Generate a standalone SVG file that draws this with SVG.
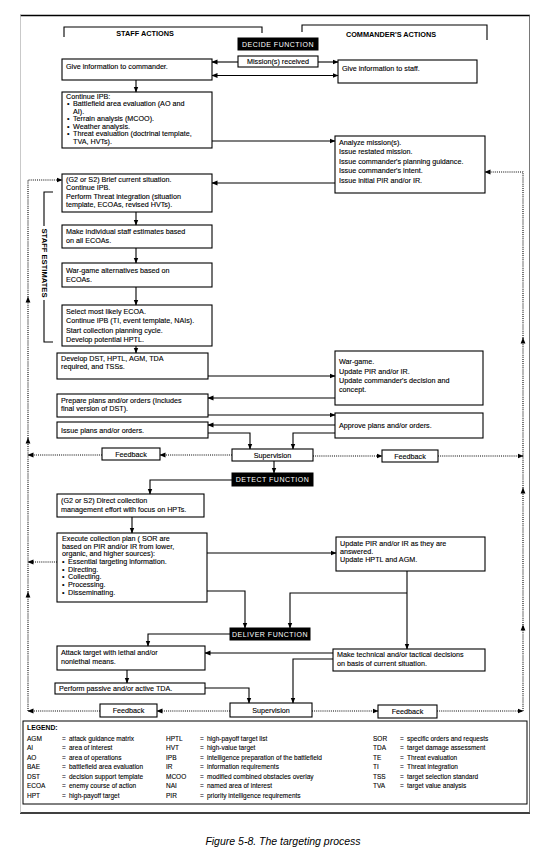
<svg xmlns="http://www.w3.org/2000/svg" width="550" height="860" viewBox="0 0 550 860">
<defs>
<marker id="ah" markerWidth="6" markerHeight="6" refX="5.5" refY="3" orient="auto" markerUnits="userSpaceOnUse"><path d="M0,0.6 L6,3 L0,5.4 z" fill="#000"/></marker>
<style>
.t{font-family:"Liberation Sans",Arial,sans-serif;font-size:7.2px;fill:#000;stroke:#000;stroke-width:0.12}
.h{font-family:"Liberation Sans",Arial,sans-serif;font-size:7.3px;font-weight:bold;fill:#000}
.w{font-family:"Liberation Sans",Arial,sans-serif;font-size:7px;fill:#fff;letter-spacing:0.5px}
.c{text-anchor:middle}
.lg{font-family:"Liberation Sans",Arial,sans-serif;font-size:6.5px;fill:#000;stroke:#000;stroke-width:0.1}
.box{fill:#fff;stroke:#000;stroke-width:1.1}
.fn{fill:#000;stroke:#000}
.ln{fill:none;stroke:#000;stroke-width:1.1}
.dt{fill:none;stroke:#000;stroke-width:1.1;stroke-dasharray:1 1.1}
</style>
</defs>
<rect width="550" height="860" fill="#fff"/>
<g id="frame">
<line x1="20" y1="15.5" x2="530" y2="15.5" stroke="#000" stroke-width="1.5"/>
<line x1="20" y1="813" x2="530" y2="813" stroke="#000" stroke-width="1.5"/>
<line x1="20.5" y1="15" x2="20.5" y2="813" stroke="#bbb" stroke-width="0.8"/>
<line x1="529.5" y1="15" x2="529.5" y2="813" stroke="#555" stroke-width="0.8"/>
</g>
<g id="staff-actions">
<path class="ln" d="M64,37 V27 H262 V33"/>
<text class="h c" x="145" y="36">STAFF ACTIONS</text>
</g>
<g id="commander-actions">
<path class="ln" d="M302,32 V25 H487 V40"/>
<text class="h c" x="391" y="37">COMMANDER'S ACTIONS</text>
</g>
<g id="decide-function">
<rect class="fn" x="238" y="38" width="80" height="12"/>
<text class="w c" x="278" y="46.5">DECIDE FUNCTION</text>
</g>
<g id="staff-estimates">
<path class="ln" d="M53,192 H44 V226 M44,300 V342 H53"/>
<text class="h c" transform="translate(41.5,263) rotate(90)" style="font-size:7.6px">STAFF ESTIMATES</text>
</g>
<g id="give-info-commander">
<rect class="box" x="62" y="59" width="150" height="21"/>
<text class="t" x="66" y="68.5">Give information to commander.</text>
</g>
<g id="mission-received">
<rect class="box" x="238" y="56" width="80" height="11"/>
<text class="t c" x="278" y="64">Mission(s) received</text>
</g>
<g id="give-info-staff">
<rect class="box" x="338" y="60" width="139" height="23"/>
<text class="t" x="342" y="71">Give information to staff.</text>
</g>
<g id="continue-ipb">
<rect class="box" x="62" y="92" width="150" height="56"/>
<text class="t" x="66" y="98.5">Continue IPB:</text>
<text class="t" x="67" y="106">•</text><text class="t" x="73" y="106">Battlefield area evaluation (AO and</text>
<text class="t" x="73" y="113.5">AI).</text>
<text class="t" x="67" y="121">•</text><text class="t" x="73" y="121">Terrain analysis (MCOO).</text>
<text class="t" x="67" y="128.5">•</text><text class="t" x="73" y="128.5">Weather analysis.</text>
<text class="t" x="67" y="136">•</text><text class="t" x="73" y="136">Threat evaluation (doctrinal template,</text>
<text class="t" x="73" y="143.5">TVA, HVTs).</text>
</g>
<g id="analyze-mission">
<rect class="box" x="335" y="136" width="150" height="57"/>
<text class="t" x="339" y="144.5">Analyze mission(s).</text>
<text class="t" x="339" y="154">Issue restated mission.</text>
<text class="t" x="339" y="163.5">Issue commander's planning guidance.</text>
<text class="t" x="339" y="173">Issue commander's intent.</text>
<text class="t" x="339" y="182.5">Issue initial PIR and/or IR.</text>
</g>
<g id="brief-situation">
<rect class="box" x="62" y="174" width="150" height="38"/>
<text class="t" x="66" y="181.5">(G2 or S2) Brief current situation.</text>
<text class="t" x="66" y="189.5">Continue IPB.</text>
<text class="t" x="66" y="199">Perform Threat integration (situation</text>
<text class="t" x="66" y="207">template, ECOAs, revised HVTs).</text>
</g>
<g id="staff-estimates-box">
<rect class="box" x="62" y="225" width="150" height="23"/>
<text class="t" x="66" y="234">Make individual staff estimates based</text>
<text class="t" x="66" y="243">on all ECOAs.</text>
</g>
<g id="wargame-alternatives">
<rect class="box" x="62" y="263" width="150" height="24"/>
<text class="t" x="66" y="272.5">War-game alternatives based on</text>
<text class="t" x="66" y="281.5">ECOAs.</text>
</g>
<g id="select-ecoa">
<rect class="box" x="62" y="305" width="150" height="41"/>
<text class="t" x="66" y="313.5">Select most likely ECOA.</text>
<text class="t" x="66" y="323">Continue IPB (TI, event template, NAIs).</text>
<text class="t" x="66" y="332.5">Start collection planning cycle.</text>
<text class="t" x="66" y="342">Develop potential HPTL.</text>
</g>
<g id="develop-dst">
<rect class="box" x="57" y="353" width="151" height="26"/>
<text class="t" x="61" y="361">Develop DST, HPTL, AGM, TDA</text>
<text class="t" x="61" y="369">required, and TSSs.</text>
</g>
<g id="wargame">
<rect class="box" x="335" y="351" width="148" height="54"/>
<text class="t" x="339" y="364">War-game.</text>
<text class="t" x="339" y="373.5">Update PIR and/or IR.</text>
<text class="t" x="339" y="383">Update commander's decision and</text>
<text class="t" x="339" y="391.5">concept.</text>
</g>
<g id="prepare-plans">
<rect class="box" x="57" y="394" width="151" height="23"/>
<text class="t" x="61" y="402.5">Prepare plans and/or orders (Includes</text>
<text class="t" x="61" y="411">final version of DST).</text>
</g>
<g id="approve-plans">
<rect class="box" x="335" y="413" width="148" height="25"/>
<text class="t" x="339" y="428">Approve plans and/or orders.</text>
</g>
<g id="issue-plans">
<rect class="box" x="57" y="422" width="151" height="16"/>
<text class="t" x="61" y="432.5">Issue plans and/or orders.</text>
</g>
<g id="supervision-1">
<rect class="box" x="232" y="449" width="81" height="12"/>
<text class="t c" x="272.5" y="457.5">Supervision</text>
</g>
<g id="feedback-1l">
<rect class="box" x="102" y="448" width="58" height="12"/>
<text class="t c" x="131" y="456.5">Feedback</text>
</g>
<g id="feedback-1r">
<rect class="box" x="382" y="450" width="56" height="12"/>
<text class="t c" x="410" y="458.5">Feedback</text>
</g>
<g id="detect-function">
<rect class="fn" x="232" y="473" width="81" height="13"/>
<text class="w c" x="272.5" y="482">DETECT FUNCTION</text>
</g>
<g id="direct-collection">
<rect class="box" x="57" y="494" width="147" height="23"/>
<text class="t" x="61" y="503">(G2 or S2) Direct collection</text>
<text class="t" x="61" y="511.5">management effort with focus on HPTs.</text>
</g>
<g id="execute-collection">
<rect class="box" x="57" y="533" width="150" height="69"/>
<text class="t" x="62" y="540.5">Execute collection plan ( SOR  are</text>
<text class="t" x="62" y="548.5">based on PIR and/or IR from lower,</text>
<text class="t" x="62" y="556">organic, and higher sources):</text>
<text class="t" x="62" y="564">•</text><text class="t" x="68" y="564">Essential targeting information.</text>
<text class="t" x="62" y="571.5">•</text><text class="t" x="68" y="571.5">Directing.</text>
<text class="t" x="62" y="579">•</text><text class="t" x="68" y="579">Collecting.</text>
<text class="t" x="62" y="587">•</text><text class="t" x="68" y="587">Processing.</text>
<text class="t" x="62" y="595">•</text><text class="t" x="68" y="595">Disseminating.</text>
</g>
<g id="update-pir">
<rect class="box" x="336" y="537" width="149" height="34"/>
<text class="t" x="340" y="545.5">Update PIR and/or IR as they are</text>
<text class="t" x="340" y="553.5">answered.</text>
<text class="t" x="340" y="562">Update HPTL and AGM.</text>
</g>
<g id="deliver-function">
<rect class="fn" x="230" y="628" width="80" height="12"/>
<text class="w c" x="270" y="636.5">DELIVER FUNCTION</text>
</g>
<g id="attack-target">
<rect class="box" x="57" y="646" width="148" height="24"/>
<text class="t" x="61" y="655">Attack target with lethal and/or</text>
<text class="t" x="61" y="664">nonlethal means.</text>
</g>
<g id="tactical-decisions">
<rect class="box" x="333" y="649" width="152" height="22"/>
<text class="t" x="337" y="657">Make technical and/or tactical decisions</text>
<text class="t" x="337" y="665.5">on basis of current situation.</text>
</g>
<g id="perform-tda">
<rect class="box" x="55" y="683" width="150" height="11"/>
<text class="t" x="59" y="691">Perform passive and/or active TDA.</text>
</g>
<g id="supervision-2">
<rect class="box" x="230" y="703" width="82" height="14"/>
<text class="t c" x="271" y="712.5">Supervision</text>
</g>
<g id="feedback-2l">
<rect class="box" x="100" y="704" width="57" height="13"/>
<text class="t c" x="128.5" y="713">Feedback</text>
</g>
<g id="feedback-2r">
<rect class="box" x="378" y="705" width="59" height="13"/>
<text class="t c" x="407.5" y="714">Feedback</text>
</g>
<g id="connectors">
<path class="ln" d="M238,62 H212" marker-end="url(#ah)"/>
<path class="ln" d="M318,62 H338" marker-end="url(#ah)"/>
<path class="ln" d="M275,75.5 H212" marker-end="url(#ah)"/>
<path class="ln" d="M275,75.5 H338" marker-end="url(#ah)"/>
<path class="ln" d="M136,80 V92" marker-end="url(#ah)"/>
<path class="ln" d="M212,141 H335" marker-end="url(#ah)"/>
<path class="ln" d="M335,183 H212" marker-end="url(#ah)"/>
<path class="ln" d="M136,212 V225" marker-end="url(#ah)"/>
<path class="ln" d="M136,248 V263" marker-end="url(#ah)"/>
<path class="ln" d="M136,287 V305" marker-end="url(#ah)"/>
<path class="ln" d="M136,346 V353" marker-end="url(#ah)"/>
<path class="ln" d="M208,376 H335" marker-end="url(#ah)"/>
<path class="ln" d="M335,398 H208" marker-end="url(#ah)"/>
<path class="ln" d="M208,415 H335" marker-end="url(#ah)"/>
<path class="ln" d="M335,425 H208" marker-end="url(#ah)"/>
<path class="ln" d="M208,433 H250 V449" marker-end="url(#ah)"/>
<path class="ln" d="M335,433 H293 V449" marker-end="url(#ah)"/>
<path class="ln" d="M274,461 V473" marker-end="url(#ah)"/>
<path class="ln" d="M232,480 H150 V494" marker-end="url(#ah)"/>
<path class="ln" d="M132,517 V533" marker-end="url(#ah)"/>
<path class="ln" d="M207,553 H336" marker-end="url(#ah)"/>
<path class="ln" d="M407,571 V649" marker-end="url(#ah)"/>
<path class="ln" d="M407,593 H290 V628" marker-end="url(#ah)"/>
<path class="ln" d="M207,591 H245 V628" marker-end="url(#ah)"/>
<path class="ln" d="M230,634 H148 V646" marker-end="url(#ah)"/>
<path class="ln" d="M333,653 H205" marker-end="url(#ah)"/>
<path class="ln" d="M333,659 H293 V703" marker-end="url(#ah)"/>
<path class="ln" d="M127,670 V683" marker-end="url(#ah)"/>
<path class="ln" d="M205,688 H249 V703" marker-end="url(#ah)"/>
<path class="dt" d="M232,455 H160" marker-end="url(#ah)"/>
<path class="dt" d="M102,455 H28" marker-end="url(#ah)"/>
<path class="dt" d="M313,456 H382" marker-end="url(#ah)"/>
<path class="dt" d="M438,456 H523" marker-end="url(#ah)"/>
<path class="dt" d="M230,711 H157" marker-end="url(#ah)"/>
<path class="dt" d="M100,711 H28" marker-end="url(#ah)"/>
<path class="dt" d="M312,711 H378" marker-end="url(#ah)"/>
<path class="dt" d="M437,711 H523" marker-end="url(#ah)"/>
<path class="dt" d="M57,562 H28" marker-end="url(#ah)"/>
<path class="dt" d="M28,711 V592" marker-end="url(#ah)"/>
<path class="dt" d="M28,592 V438" marker-end="url(#ah)"/>
<path class="dt" d="M28,438 V297" marker-end="url(#ah)"/>
<path class="dt" d="M28,297 V180 H62" marker-end="url(#ah)"/>
<path class="dt" d="M523,711 V625" marker-end="url(#ah)"/>
<path class="dt" d="M523,625 V488" marker-end="url(#ah)"/>
<path class="dt" d="M523,488 V338" marker-end="url(#ah)"/>
<path class="dt" d="M523,338 V172 H485" marker-end="url(#ah)"/>
</g>
<g id="legend">
<rect x="23" y="721" width="504" height="83" fill="none" stroke="#000" stroke-width="1"/>
<text class="h" x="27" y="730" style="font-size:6.8px">LEGEND:</text>
<g class="lg">
<text x="27" y="740.5">AGM</text><text x="62" y="740.5">=<tspan x="69">attack guidance matrix</tspan></text>
<text x="27" y="750">AI</text><text x="62" y="750">=<tspan x="69">area of interest</tspan></text>
<text x="27" y="759.5">AO</text><text x="62" y="759.5">=<tspan x="69">area of operations</tspan></text>
<text x="27" y="769">BAE</text><text x="62" y="769">=<tspan x="69">battlefield area evaluation</tspan></text>
<text x="27" y="778.5">DST</text><text x="62" y="778.5">=<tspan x="69">decision support template</tspan></text>
<text x="27" y="788">ECOA</text><text x="62" y="788">=<tspan x="69">enemy course of action</tspan></text>
<text x="27" y="797.5">HPT</text><text x="62" y="797.5">=<tspan x="69">high-payoff target</tspan></text>
<text x="166" y="740.5">HPTL</text><text x="200" y="740.5">=<tspan x="207">high-payoff target list</tspan></text>
<text x="166" y="750">HVT</text><text x="200" y="750">=<tspan x="207">high-value target</tspan></text>
<text x="166" y="759.5">IPB</text><text x="200" y="759.5">=<tspan x="207">intelligence preparation of the battlefield</tspan></text>
<text x="166" y="769">IR</text><text x="200" y="769">=<tspan x="207">information requirements</tspan></text>
<text x="166" y="778.5">MCOO</text><text x="200" y="778.5">=<tspan x="207">modified combined obstacles overlay</tspan></text>
<text x="166" y="788">NAI</text><text x="200" y="788">=<tspan x="207">named area of interest</tspan></text>
<text x="166" y="797.5">PIR</text><text x="200" y="797.5">=<tspan x="207">priority intelligence requirements</tspan></text>
<text x="373" y="740.5">SOR</text><text x="400" y="740.5">=<tspan x="407">specific orders and requests</tspan></text>
<text x="373" y="750">TDA</text><text x="400" y="750">=<tspan x="407">target damage assessment</tspan></text>
<text x="373" y="759.5">TE</text><text x="400" y="759.5">=<tspan x="407">Threat evaluation</tspan></text>
<text x="373" y="769">TI</text><text x="400" y="769">=<tspan x="407">Threat integration</tspan></text>
<text x="373" y="778.5">TSS</text><text x="400" y="778.5">=<tspan x="407">target selection standard</tspan></text>
<text x="373" y="788">TVA</text><text x="400" y="788">=<tspan x="407">target value analysis</tspan></text>
</g>
</g>
<text id="caption" x="283" y="845" text-anchor="middle" style="font-family:'Liberation Sans',Arial,sans-serif;font-size:10.5px;font-style:italic">Figure 5-8. The targeting process</text>
</svg>
